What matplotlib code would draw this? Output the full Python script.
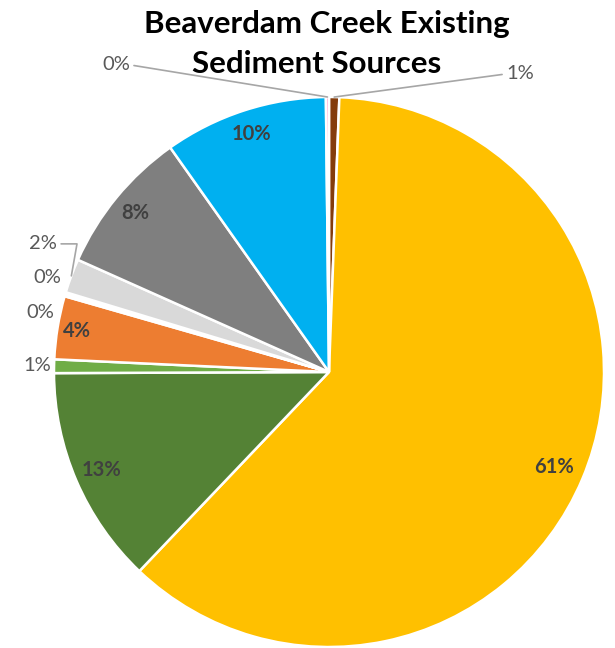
import matplotlib
matplotlib.use("Agg")
import matplotlib.pyplot as plt
import numpy as np

# slices in clockwise order starting at 12 o'clock
sources = ['Brown', 'Yellow', 'Dark green', 'Light green', 'Orange', 'Zero A', 'Zero B',
           'Light gray', 'Gray', 'Blue', 'Pink']
shares = [0.6, 61.4, 12.8, 0.8, 3.7, 0.12, 0.12, 2.0, 8.5, 9.6, 0.18]
pct_labels = ['1%', '61%', '13%', '1%', '4%', '0%', '0%', '2%', '8%', '10%', '0%']
colors = ['#843C0C', '#FFC000', '#548235', '#70AD47', '#ED7D31', '#A5A5A5', '#FFFF66',
          '#D9D9D9', '#7F7F7F', '#00B0F0', '#FF99CC']

# label placement: inside labels use a radius factor, outside ones an (x, y) spot
inside_r = {1: 0.89, 2: 0.9, 4: 0.93, 8: 0.91, 9: 0.91}
outside_xy = {0: (0.695, 1.087), 3: (-1.062, 0.025), 5: (-1.051, 0.215),
              6: (-1.025, 0.342), 7: (-1.04, 0.469), 10: (-0.775, 1.12)}
leaders = {0: 'arc3,rad=0',
           7: 'angle,angleA=0,angleB=80,rad=0',
           10: 'arc3,rad=0'}

plt.rcParams['font.family'] = ['Lato', 'DejaVu Sans']

fig = plt.figure(figsize=(6.15, 6.48), dpi=100)
ax = fig.add_axes([0, 0, 1, 1])
wedges, _ = ax.pie(shares, colors=colors, startangle=90, counterclock=False, radius=1,
                   wedgeprops=dict(edgecolor='white', linewidth=1.8))
ax.set_xlim(-329 / 275, (615 - 329) / 275)
ax.set_ylim((372 - 648) / 275, 372 / 275)
ax.set_aspect('auto')
ax.axis('off')

for i, w in enumerate(wedges):
    mid = np.deg2rad((w.theta1 + w.theta2) / 2)
    if i in inside_r:
        r = inside_r[i]
        ax.text(r * np.cos(mid), r * np.sin(mid), pct_labels[i], ha='center', va='center',
                fontsize=14.5, fontweight='bold', color='#404040')
    else:
        tx, ty = outside_xy[i]
        if i in leaders:
            ax.annotate(pct_labels[i], xy=(np.cos(mid), np.sin(mid)), xytext=(tx, ty),
                        ha='center', va='center', fontsize=14.5, color='#595959',
                        arrowprops=dict(arrowstyle='-', color='#A6A6A6', lw=1.2,
                                        shrinkA=1, shrinkB=0,
                                        relpos=(0 if tx > 0 else 1, 0.45),
                                        connectionstyle=leaders[i]))
        else:
            ax.text(tx, ty, pct_labels[i], ha='center', va='center', fontsize=14.5,
                    color='#595959')

fig.text(327 / 615, 1 - 33 / 648, 'Beaverdam Creek Existing', ha='center', va='baseline',
         fontsize=22.5, fontweight='bold', color='black')
fig.text(317 / 615, 1 - 73 / 648, 'Sediment Sources', ha='center', va='baseline',
         fontsize=22.5, fontweight='bold', color='black')

fig.savefig('out.png', dpi=100)
